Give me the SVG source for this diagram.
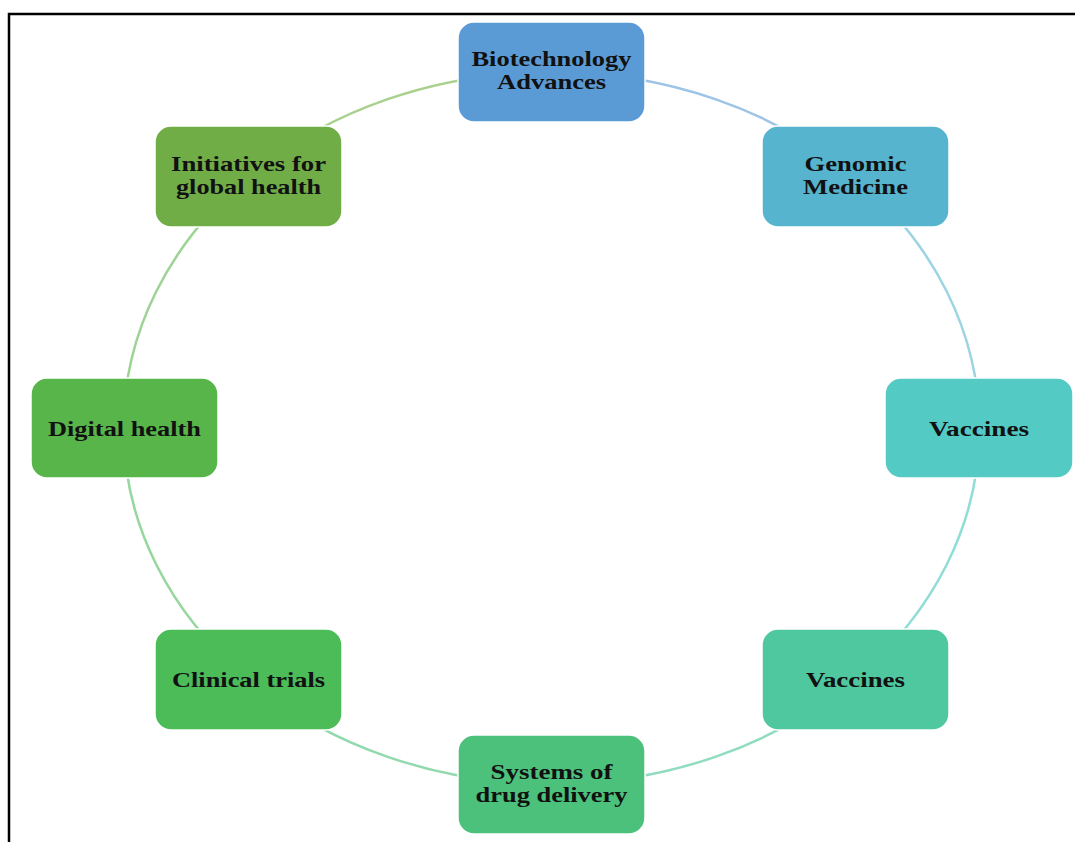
<svg xmlns="http://www.w3.org/2000/svg" width="1075" height="842" viewBox="0 0 1075 842">
  <style>
    .node rect { stroke: #ffffff; stroke-width: 1.5; }
    .node text { font-family: "Liberation Serif", "Times New Roman", serif; font-weight: bold; font-size: 21px; fill: #111111; text-anchor: middle; }
    .conn path { fill: none; stroke-width: 2.5; }
    .frame { stroke: #000000; stroke-width: 2.5; fill: none; }
  </style>
  <rect x="0" y="0" width="1075" height="842" fill="#ffffff"/>
  <path class="frame" d="M9 842 V14 H1075"/>
  <g id="connectors" class="conn">
    <path d="M551.5 72 A428 356 0 0 1 854.1 176.3" stroke="#9DC3E6"/>
    <path d="M854.1 176.3 A428 356 0 0 1 979.5 428" stroke="#9DD4E4"/>
    <path d="M979.5 428 A428 356 0 0 1 854.1 679.7" stroke="#90DDD6"/>
    <path d="M854.1 679.7 A428 356 0 0 1 551.5 784" stroke="#8FDCBE"/>
    <path d="M551.5 784 A428 356 0 0 1 248.9 679.7" stroke="#92D9AE"/>
    <path d="M248.9 679.7 A428 356 0 0 1 123.5 428" stroke="#95D79C"/>
    <path d="M123.5 428 A428 356 0 0 1 248.9 176.3" stroke="#9DD394"/>
    <path d="M248.9 176.3 A428 356 0 0 1 551.5 72" stroke="#A9D18E"/>
  </g>
  <g id="node-biotech" class="node">
    <rect x="458" y="22" width="187" height="100" rx="16" fill="#5B9BD5"/>
    <text x="551.5" y="66" textLength="160" lengthAdjust="spacingAndGlyphs">Biotechnology</text>
    <text x="551.5" y="89" textLength="109" lengthAdjust="spacingAndGlyphs">Advances</text>
  </g>
  <g id="node-genomic" class="node">
    <rect x="762" y="126" width="187" height="101" rx="16" fill="#56B4CF"/>
    <text x="855.5" y="171" textLength="102" lengthAdjust="spacingAndGlyphs">Genomic</text>
    <text x="855.5" y="194" textLength="105" lengthAdjust="spacingAndGlyphs">Medicine</text>
  </g>
  <g id="node-vaccines-1" class="node">
    <rect x="885" y="378" width="188" height="100" rx="16" fill="#53CAC4"/>
    <text x="979" y="436" textLength="100" lengthAdjust="spacingAndGlyphs">Vaccines</text>
  </g>
  <g id="node-vaccines-2" class="node">
    <rect x="762" y="629" width="187" height="101" rx="16" fill="#4FC79F"/>
    <text x="855.5" y="687" textLength="99" lengthAdjust="spacingAndGlyphs">Vaccines</text>
  </g>
  <g id="node-systems" class="node">
    <rect x="458" y="735" width="187" height="99" rx="16" fill="#4CC17C"/>
    <text x="551.5" y="779" textLength="122" lengthAdjust="spacingAndGlyphs">Systems of</text>
    <text x="551.5" y="802" textLength="152" lengthAdjust="spacingAndGlyphs">drug delivery</text>
  </g>
  <g id="node-clinical" class="node">
    <rect x="155" y="629" width="187" height="101" rx="16" fill="#4BBC58"/>
    <text x="248.5" y="687" textLength="153" lengthAdjust="spacingAndGlyphs">Clinical trials</text>
  </g>
  <g id="node-digital" class="node">
    <rect x="31" y="378" width="187" height="100" rx="16" fill="#57B54A"/>
    <text x="124.5" y="436" textLength="153" lengthAdjust="spacingAndGlyphs">Digital health</text>
  </g>
  <g id="node-initiatives" class="node">
    <rect x="155" y="126" width="187" height="101" rx="16" fill="#70AD47"/>
    <text x="248.5" y="171" textLength="155" lengthAdjust="spacingAndGlyphs">Initiatives for</text>
    <text x="248.5" y="194" textLength="145" lengthAdjust="spacingAndGlyphs">global health</text>
  </g>
</svg>
